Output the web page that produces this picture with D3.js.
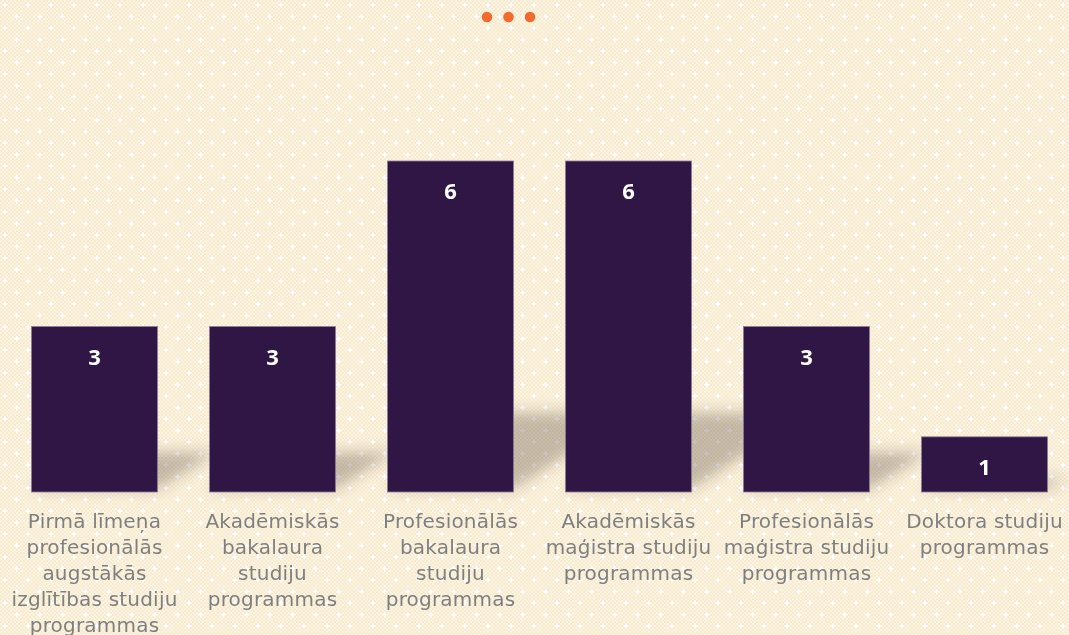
<!DOCTYPE html>
<html>
<head>
<meta charset="utf-8">
<script src="https://cdn.jsdelivr.net/npm/d3@7"></script>
<style>
  body { margin: 0; overflow: hidden; }
</style>
</head>
<body>
<div id="chart"></div>
<script>
// data
const categories = [
    "Pirmā līmeņa profesionālās augstākās izglītības studiju programmas",
    "Akadēmiskās bakalaura studiju programmas",
    "Profesionālās bakalaura studiju programmas",
    "Akadēmiskās maģistra studiju programmas",
    "Profesionālās maģistra studiju programmas",
    "Doktora studiju programmas"
];
const labelLines = [
    ["Pirmā līmeņa", "profesionālās", "augstākās", "izglītības studiju", "programmas"],
    ["Akadēmiskās", "bakalaura", "studiju", "programmas"],
    ["Profesionālās", "bakalaura", "studiju", "programmas"],
    ["Akadēmiskās", "maģistra studiju", "programmas"],
    ["Profesionālās", "maģistra studiju", "programmas"],
    ["Doktora studiju", "programmas"]
];
const values = [3, 3, 6, 6, 3, 1];
const dots = [0, 1, 2];

const width = 1069;
const height = 635;
const baseline = 492;

const svg = d3.select('#chart')
    .append('svg')
    .attr('width', width)
    .attr('height', height);

const defs = svg.append('defs');

// cream background with a faint checker and white sparkles
const pat = defs.append('pattern')
    .attr('id', 'bg')
    .attr('patternUnits', 'userSpaceOnUse')
    .attr('width', 23)
    .attr('height', 23);
pat.append('rect').attr('width', 23).attr('height', 23).attr('fill', '#fcf4e3');
for (let i = 0; i < 23; i += 4) {
    for (let j = 0; j < 23; j += 4) {
        pat.append('rect')
            .attr('x', i).attr('y', j)
            .attr('width', 2).attr('height', 2)
            .attr('fill', '#f7e7c9')
            .attr('opacity', 0.8);
        pat.append('rect')
            .attr('x', i + 2).attr('y', j + 2)
            .attr('width', 2).attr('height', 2)
            .attr('fill', '#f7e7c9')
            .attr('opacity', 0.8);
    }
}
const star = (cx, cy) => `M${cx},${cy - 3.5}L${cx + 0.9},${cy - 0.9}L${cx + 3.5},${cy}L${cx + 0.9},${cy + 0.9}L${cx},${cy + 3.5}L${cx - 0.9},${cy + 0.9}L${cx - 3.5},${cy}L${cx - 0.9},${cy - 0.9}Z`;
[[5, 5], [16.5, 16.5]].forEach(([cx, cy]) => {
    pat.append('path').attr('d', star(cx, cy)).attr('fill', '#ffffff');
    pat.append('circle').attr('cx', cx).attr('cy', cy).attr('r', 1.4).attr('fill', '#ffffff');
});

svg.append('rect')
    .attr('width', width)
    .attr('height', height)
    .attr('fill', 'url(#bg)');

const blur = defs.append('filter')
    .attr('id', 'shadowBlur')
    .attr('x', -0.5).attr('y', -0.5)
    .attr('width', 2).attr('height', 2);
blur.append('feGaussianBlur').attr('stdDeviation', 7);

// three orange dots at the top
svg.selectAll('.dot')
    .data(dots)
    .enter()
    .append('circle')
    .attr('cx', d => 487 + d * 21.5)
    .attr('cy', 17)
    .attr('r', 5.3)
    .attr('fill', '#f26a2e');

const x = d3.scaleBand()
    .domain(categories)
    .range([5.5, 1073.5])
    .paddingInner(0.292)
    .paddingOuter(0.146);

const y = d3.scaleLinear()
    .domain([0, 6])
    .range([baseline, 161]);

// perspective shadows
svg.append('g')
    .attr('filter', 'url(#shadowBlur)')
    .selectAll('polygon')
    .data(values)
    .enter()
    .append('polygon')
    .attr('points', (d, i) => {
        const x0 = x(categories[i]);
        const x1 = x0 + x.bandwidth();
        const hs = (baseline - y(d)) * 0.24;
        const s = hs * 1.5;
        return [[x0, baseline - 3], [x1, baseline - 3], [x1 + s, baseline - hs], [x0 + s, baseline - hs]].join(' ');
    })
    .attr('fill', 'rgb(70,60,50)')
    .attr('opacity', 0.3);

svg.selectAll('.bar')
    .data(values)
    .enter()
    .append('rect')
    .attr('class', 'bar')
    .attr('x', (d, i) => x(categories[i]))
    .attr('y', d => y(d))
    .attr('width', x.bandwidth())
    .attr('height', d => y(0) - y(d))
    .attr('fill', '#301645')
    .attr('stroke', '#8e7d9c')
    .attr('stroke-width', 0.8);

svg.selectAll('.val')
    .data(values)
    .enter()
    .append('text')
    .attr('class', 'val')
    .attr('x', (d, i) => x(categories[i]) + x.bandwidth() / 2)
    .attr('y', d => y(d) + 38)
    .attr('text-anchor', 'middle')
    .attr('font-family', 'Open Sans, sans-serif')
    .attr('font-weight', 'bold')
    .attr('font-size', 22)
    .attr('fill', '#ffffff')
    .text(d => d);

// category axis, no line or ticks, multi-line labels
const axis = svg.append('g')
    .attr('transform', `translate(0,${baseline})`)
    .call(d3.axisBottom(x).tickSize(0).tickFormat(''));
axis.select('.domain').remove();
axis.selectAll('.tick text').each(function (d, i) {
    const t = d3.select(this)
        .attr('y', 0)
        .attr('dy', null)
        .attr('font-family', 'DejaVu Sans, sans-serif')
        .attr('font-size', 20)
        .attr('letter-spacing', 0.2)
        .attr('fill', '#7f7f7f');
    labelLines[i].forEach((line, k) => {
        t.append('tspan')
            .attr('x', 0)
            .attr('y', 36 + k * 26)
            .text(line);
    });
});
</script>
</body>
</html>
